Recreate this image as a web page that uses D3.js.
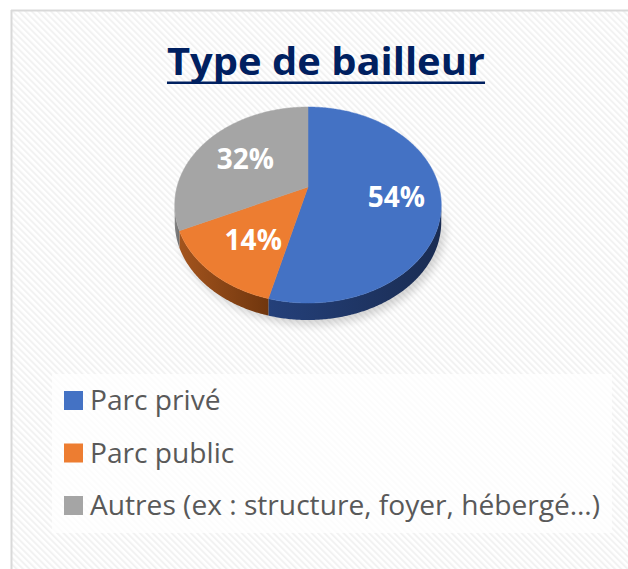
<!DOCTYPE html>
<html>
<head>
<meta charset="utf-8">
<script src="https://cdn.jsdelivr.net/npm/d3@7"></script>
<style>
  body { margin: 0; background: #fff; }
</style>
</head>
<body>
<svg id="chart" width="628" height="569"></svg>
<script>
const title = "Type de bailleur";
const categories = ["Parc privé", "Parc public", "Autres (ex : structure, foyer, hébergé…)"];
const shares = [54, 14, 32];
const shareLabels = ["54%", "14%", "32%"];
const topColors = ["#4472C4", "#ED7D31", "#A5A5A5"];
const sideColors = [["#24407a", "#1a2c52"], ["#a3541d", "#70360e"], ["#858585", "#6e6e6e"]];

const svg = d3.select("#chart");
const width = +svg.attr("width");
const height = +svg.attr("height");
const font = "'Open Sans', 'Noto Sans', sans-serif";

const defs = svg.append("defs");

// diagonal hatch background
const hatch = defs.append("pattern")
  .attr("id", "hatch")
  .attr("patternUnits", "userSpaceOnUse")
  .attr("width", 4.5).attr("height", 4.5)
  .attr("patternTransform", "rotate(-45)");
hatch.append("rect").attr("width", 4.5).attr("height", 4.5).attr("fill", "#ffffff");
hatch.append("line").attr("x1", 1).attr("x2", 1).attr("y1", 0).attr("y2", 4.5)
  .attr("stroke", "#f2f2f2").attr("stroke-width", 2);

svg.append("rect").attr("x", 12).attr("y", 11)
  .attr("width", width - 12).attr("height", height - 11)
  .attr("fill", "url(#hatch)");

// frame
svg.append("line").attr("x1", 11).attr("x2", width).attr("y1", 10.5).attr("y2", 10.5)
  .attr("stroke", "#d9d9d9").attr("stroke-width", 2);
svg.append("line").attr("x1", 11.5).attr("x2", 11.5).attr("y1", 10).attr("y2", height)
  .attr("stroke", "#d9d9d9").attr("stroke-width", 2);

// title
svg.append("text")
  .attr("x", 326).attr("y", 75)
  .attr("text-anchor", "middle")
  .attr("font-family", font).attr("font-weight", "bold")
  .attr("font-size", 38).attr("fill", "#002060")
  .attr("textLength", 318).attr("lengthAdjust", "spacingAndGlyphs")
  .text(title);
svg.append("rect").attr("x", 167).attr("y", 81.5).attr("width", 318).attr("height", 2.5)
  .attr("fill", "#002060");

// 3D pie with a little perspective
const cx = 308, cy = 187, rx = 131, ry = 94.7, persp = 0.1837, depth = 17;

function proj(theta, r) {
  const x = r * Math.sin(theta), z = -r * Math.cos(theta);
  const w = 1 - persp * z;
  return [cx + rx * x / w, cy + ry * z / w];
}

function arcPoints(a0, a1, r) {
  const n = Math.max(2, Math.ceil((a1 - a0) / 0.01));
  return d3.range(n + 1).map(i => proj(a0 + (a1 - a0) * i / n, r));
}

const line = d3.line();
const arcs = d3.pie().sort(null)(shares);

// front rim visible between the two horizontal extremes
const visA = Math.acos(-persp), visB = 2 * Math.PI - Math.acos(-persp);

const shadowF = defs.append("filter").attr("id", "soft")
  .attr("x", "-20%").attr("y", "-20%").attr("width", "140%").attr("height", "140%");
shadowF.append("feGaussianBlur").attr("stdDeviation", 4);

const rim = arcPoints(visA, visB, 1);
svg.append("path")
  .attr("d", line(rim.concat(rim.slice().reverse().map(p => [p[0] + 4, p[1] + depth + 5]))) + "Z")
  .attr("fill", "#000").attr("opacity", 0.16).attr("filter", "url(#soft)");

arcs.forEach((d, i) => {
  const s = Math.max(d.startAngle, visA), e = Math.min(d.endAngle, visB);
  if (e <= s) return;
  const pts = arcPoints(s, e, 1);
  const g = defs.append("linearGradient").attr("id", "side" + i)
    .attr("gradientUnits", "userSpaceOnUse")
    .attr("x1", d3.min(pts, p => p[0])).attr("x2", d3.max(pts, p => p[0]))
    .attr("y1", 0).attr("y2", 0);
  g.append("stop").attr("offset", 0).attr("stop-color", sideColors[i][0]);
  g.append("stop").attr("offset", 1).attr("stop-color", sideColors[i][1]);
  const bottom = pts.slice().reverse().map(p => [p[0], p[1] + depth]);
  svg.append("path")
    .attr("d", line(pts.concat(bottom)) + "Z")
    .attr("fill", `url(#side${i})`);
});

arcs.forEach((d, i) => {
  const pts = [proj(0, 0)].concat(arcPoints(d.startAngle, d.endAngle, 1));
  svg.append("path")
    .attr("d", line(pts) + "Z")
    .attr("fill", topColors[i])
    .attr("stroke", topColors[i]).attr("stroke-width", 0.5);
});

arcs.forEach((d, i) => {
  const p = proj((d.startAngle + d.endAngle) / 2, 0.64);
  svg.append("text")
    .attr("x", p[0] + 4).attr("y", p[1] + 2).attr("dy", "0.36em")
    .attr("text-anchor", "middle")
    .attr("font-family", font).attr("font-weight", "bold")
    .attr("font-size", 28).attr("fill", "#ffffff")
    .text(shareLabels[i]);
});

// legend
svg.append("rect").attr("x", 52).attr("y", 374).attr("width", 560).attr("height", 159)
  .attr("fill", "#ffffff").attr("opacity", 0.75);

const rowY = d3.scalePoint().domain(categories).range([410, 515]);
const rows = svg.append("g").selectAll("g").data(categories).join("g")
  .attr("transform", d => `translate(0,${rowY(d)})`);
rows.append("rect").attr("x", 64).attr("y", -19).attr("width", 19).attr("height", 19)
  .attr("fill", (d, i) => topColors[i]);
const texts = rows.append("text")
  .attr("x", 90).attr("y", 0)
  .attr("font-family", font).attr("font-size", 28).attr("fill", "#595959")
  .text(d => d);
const widest = d3.max(texts.nodes(), n => n.getComputedTextLength());
const squeeze = 510 / widest;
texts.each(function () {
  d3.select(this).attr("textLength", this.getComputedTextLength() * squeeze)
    .attr("lengthAdjust", "spacingAndGlyphs");
});
</script>
</body>
</html>
